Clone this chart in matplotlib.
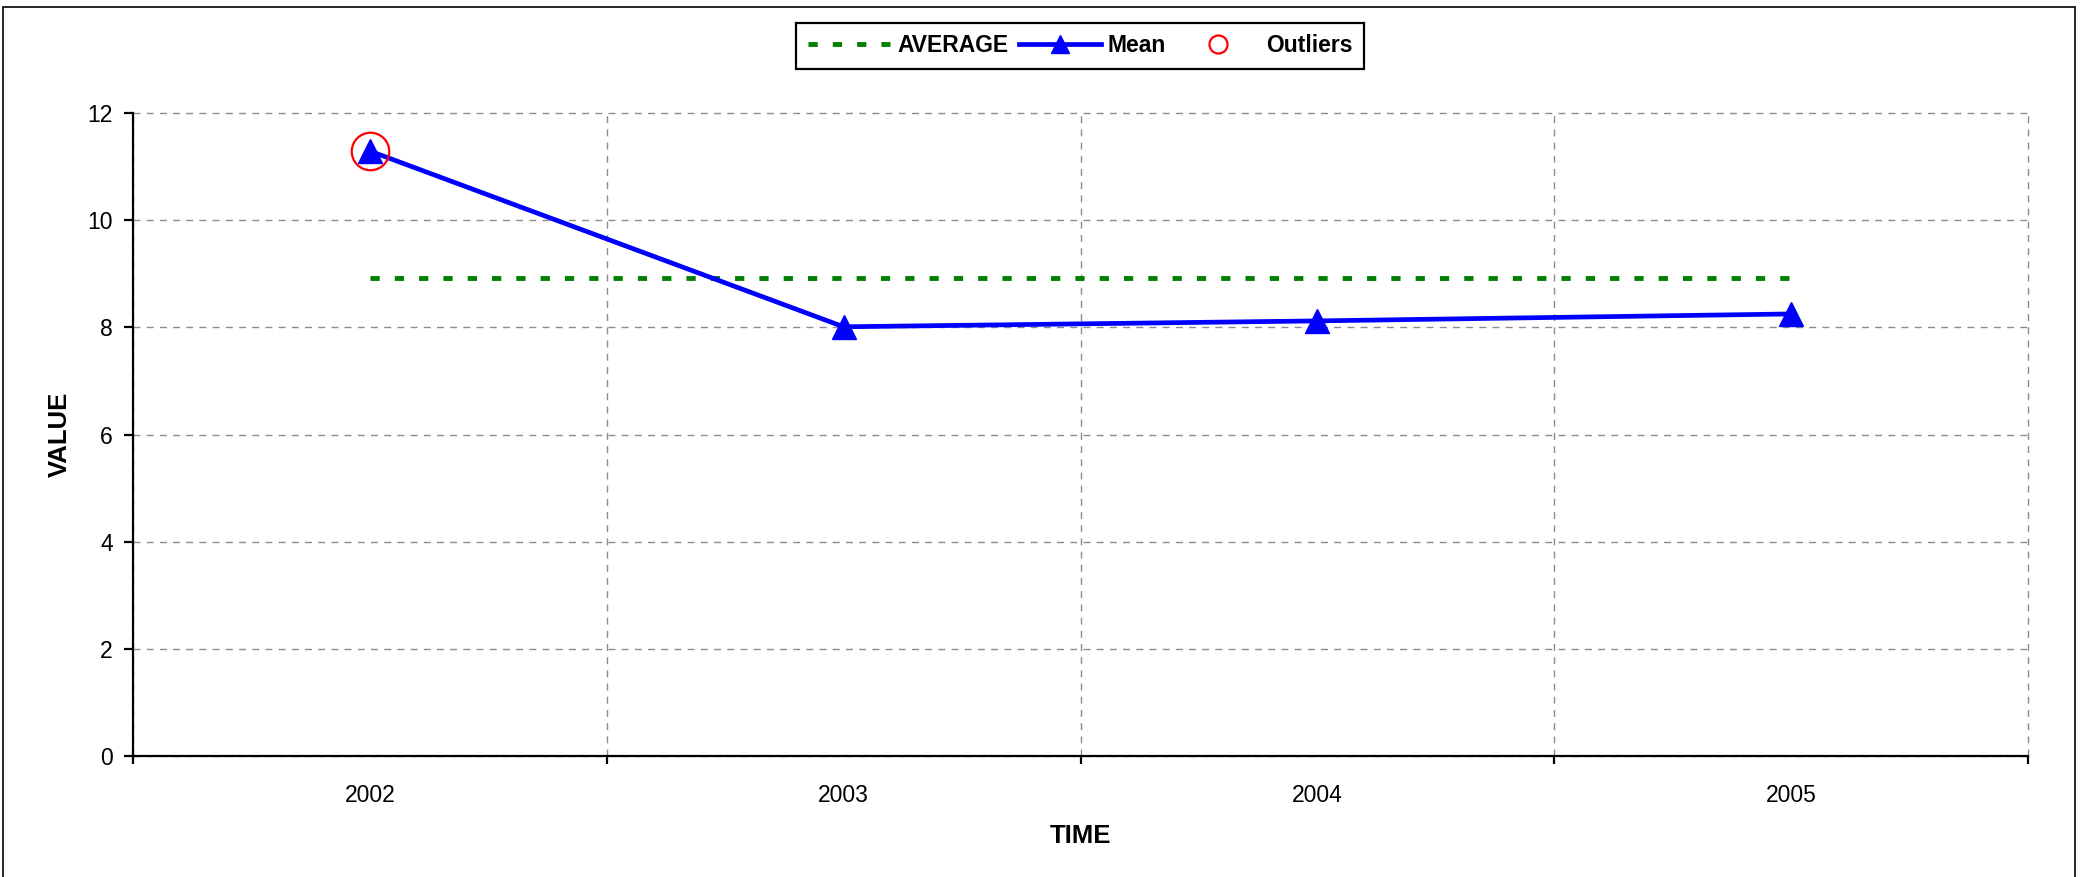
import matplotlib

matplotlib.use("Agg")
import matplotlib.pyplot as plt
import numpy as np
from matplotlib.lines import Line2D
from matplotlib.patches import Rectangle

years = ["2002", "2003", "2004", "2005"]
mean_values = [11.29, 8.01, 8.12, 8.25]
average_values = [8.92, 8.92, 8.92, 8.92]
outlier_years = ["2002"]
outlier_values = [11.29]
y_ticks = [0, 2, 4, 6, 8, 10, 12]

BLUE = "#0000ff"
GREEN = "#008000"
RED = "#ff0000"
GRID = "#8c8c8c"


def build_figure():
    plt.rcParams["font.family"] = ["Liberation Sans", "DejaVu Sans"]
    fig = plt.figure(figsize=(20.8, 8.77), dpi=100)
    ax = fig.add_axes([133 / 2080, 1 - 756 / 877, 1895 / 2080, 643 / 877])

    x = np.arange(len(years))
    outlier_x = [years.index(y) for y in outlier_years]

    ax.plot(x, average_values, color=GREEN, lw=3.5, linestyle=(0, (1.9, 3.1)), zorder=3)
    ax.plot(x, mean_values, color=BLUE, lw=3.4, marker="^", markersize=17, zorder=4)
    ax.plot(outlier_x, outlier_values, linestyle="none", marker="o", markersize=27,
            markerfacecolor="none", markeredgecolor=RED, markeredgewidth=1.6, zorder=5)

    ax.set_xlim(-0.5, len(years) - 0.5)
    ax.set_ylim(0, 12)

    # category boundaries carry the ticks and grid, labels sit in between
    ax.set_xticks(np.arange(-0.5, len(years), 1.0))
    ax.set_xticklabels([])
    ax.set_xticks(x, minor=True)
    ax.set_xticklabels(years, minor=True)
    ax.tick_params(axis="x", which="major", direction="out", length=6, width=1.6, color="black")
    ax.tick_params(axis="x", which="minor", length=0, pad=20, labelsize=16.5)
    ax.set_yticks(y_ticks)
    ax.tick_params(axis="y", direction="out", length=6.5, width=1.6, pad=8, labelsize=16.5)

    ax.grid(True, which="major", color=GRID, linestyle=(0, (5, 4.5)), lw=1.0)
    ax.set_axisbelow(True)
    for line in ax.get_xgridlines() + ax.get_ygridlines():
        line.set_clip_on(False)

    for side in ["top", "right"]:
        ax.spines[side].set_visible(False)
    for side in ["left", "bottom"]:
        ax.spines[side].set_linewidth(1.6)
        ax.spines[side].set_color("black")

    ax.set_xlabel("TIME", fontsize=18.5, fontweight="bold", va="center")
    ax.xaxis.set_label_coords(0.5, (756 - 836) / 643)
    ax.set_ylabel("VALUE", fontsize=18.5, fontweight="bold", va="center")
    ax.yaxis.set_label_coords((60 - 133) / 1895, 0.5)

    handles = [
        Line2D([], [], color=GREEN, lw=3.5, linestyle=(0, (1.9, 3.1))),
        Line2D([], [], color=BLUE, lw=3.4, marker="^", markersize=13),
        Line2D([], [], linestyle="none", marker="o", markersize=13,
               markerfacecolor="none", markeredgecolor=RED, markeredgewidth=1.6),
    ]
    leg = fig.legend(handles, ["AVERAGE", "Mean", "Outliers"], loc="upper center",
                     bbox_to_anchor=(1080 / 2080, 1 - 23 / 877), ncol=3, frameon=True,
                     fancybox=False, framealpha=1, edgecolor="black", borderaxespad=0,
                     handlelength=3.6, handletextpad=0.3, columnspacing=0.45,
                     borderpad=0.5, prop={"size": 16.5, "weight": "bold"})
    leg.get_frame().set_linewidth(1.6)

    # outer chart border (bottom edge is cut off in the source)
    fig.add_artist(Rectangle((3 / 2080, -0.05), 2072 / 2080, 1.05 - 7 / 877,
                             transform=fig.transFigure, fill=False, edgecolor="black",
                             lw=1.2, clip_on=False))
    return fig


if __name__ == "__main__":
    fig = build_figure()
    fig.savefig("out.png", dpi=100)
    plt.close(fig)
